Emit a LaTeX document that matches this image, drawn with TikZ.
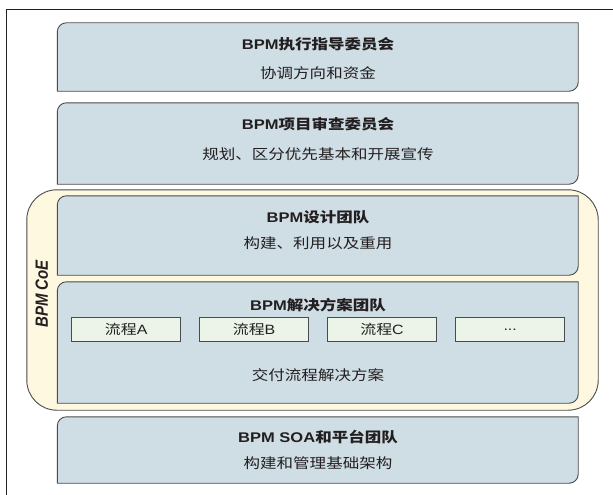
\documentclass[tikz,border=0pt]{standalone}
\usepackage{fontspec}
\setmainfont{Liberation Sans}
\newfontfamily\cjk{Noto Sans CJK SC}
\usetikzlibrary{backgrounds}
\definecolor{boxfill}{RGB}{207,222,229}
\definecolor{procfill}{RGB}{236,244,234}
\definecolor{coefill}{RGB}{255,248,225}
\definecolor{edgec}{RGB}{75,75,75}
\definecolor{framec}{RGB}{35,31,32}
\definecolor{txtc}{RGB}{35,31,32}
\newcommand\sx[1]{\scalebox{1.18}[1]{#1}}
\newcommand\tlbr[1]{%
  \filldraw[fill=boxfill, draw=edgec, line width=0.9pt]
    (#1.south west) -- ([yshift=-9pt]#1.north west)
    arc[start angle=180,end angle=90,radius=9pt] -- (#1.north east)
    -- ([yshift=9pt]#1.south east)
    arc[start angle=0,end angle=-90,radius=9pt] -- cycle;}
\begin{document}
\begin{tikzpicture}[x=1pt,y=1pt,
  bignode/.style={draw=none, inner sep=0pt, minimum width=520.5pt},
  ttl/.style={text=txtc, inner sep=0pt, font=\bfseries\fontsize{14}{16}\selectfont},
  sub/.style={text=txtc, inner sep=0pt, font=\fontsize{14}{16}\selectfont},
  proc/.style={draw=edgec, line width=0.9pt, fill=procfill, minimum width=109pt, minimum height=24.7pt, inner sep=0pt, text=txtc, font=\fontsize{13.5}{15}\selectfont},
  framel/.style={draw=framec, line width=1pt}]
\useasboundingbox (0,0) rectangle (613,-495);
% frame
\coordinate (ftr) at (613,-10);
\coordinate (ftl) at (6,-10);
\coordinate (fbl) at (6,-495);
\draw[framel] (ftr) -- (ftl) -- (fbl);
% containers
\node[draw=none, minimum width=571pt, minimum height=220pt, inner sep=0pt] (coe) at (312.5,-300) {};
\node[bignode, minimum height=68pt] (exec) at (317.75,-57) {};
\node[bignode, minimum height=81pt] (review) at (317.75,-143.5) {};
\node[bignode, minimum height=79pt] (design) at (317.75,-235.5) {};
\node[bignode, minimum height=121pt] (solution) at (317.75,-342.5) {};
\node[bignode, minimum height=66pt] (soa) at (317.75,-450) {};
\begin{scope}[on background layer]
  \filldraw[fill=coefill, draw=edgec, line width=0.9pt, rounded corners=30pt]
    (coe.south west) rectangle (coe.north east);
  \tlbr{exec}
  \tlbr{review}
  \tlbr{design}
  \tlbr{solution}
  \tlbr{soa}
\end{scope}
% texts
\node[ttl] (execT) at (318,-44.5) {\sx{BPM{\cjk 执行指导委员会}}};
\node[sub] (execS) at (318,-72.7) {\sx{\cjk 协调方向和资金}};
\node[ttl] (reviewT) at (318,-124) {\sx{BPM{\cjk 项目审查委员会}}};
\node[sub] (reviewS) at (318,-154.5) {\sx{\cjk 规划、区分优先基本和开展宣传}};
\node[ttl] (designT) at (318,-217.5) {\sx{BPM{\cjk 设计团队}}};
\node[sub] (designS) at (318,-243) {\sx{\cjk 构建、利用以及重用}};
\node[ttl] (solutionT) at (318,-305) {\sx{BPM{\cjk 解决方案团队}}};
\node[sub] (solutionS) at (318,-375) {\sx{\cjk 交付流程解决方案}};
\node[ttl] (soaT) at (318,-436.7) {\sx{BPM SOA{\cjk 和平台团队}}};
\node[sub] (soaS) at (318,-463) {\sx{\cjk 构建和管理基础架构}};
% processes
\node[proc] (pA) at (126.2,-329.3) {\sx{{\cjk 流程}A}};
\node[proc] (pB) at (254.1,-329.3) {\sx{{\cjk 流程}B}};
\node[proc] (pC) at (382.0,-329.3) {\sx{{\cjk 流程}C}};
\node[proc] (pD) at (510.2,-329.3) {\sx{...}};
% CoE label
\node[rotate=90, text=txtc, inner sep=0pt, font=\bfseries\itshape\fontsize{15}{17}\selectfont] (coeT) at (41.7,-294) {\scalebox{1}[1.18]{BPM CoE}};
\end{tikzpicture}
\end{document}
